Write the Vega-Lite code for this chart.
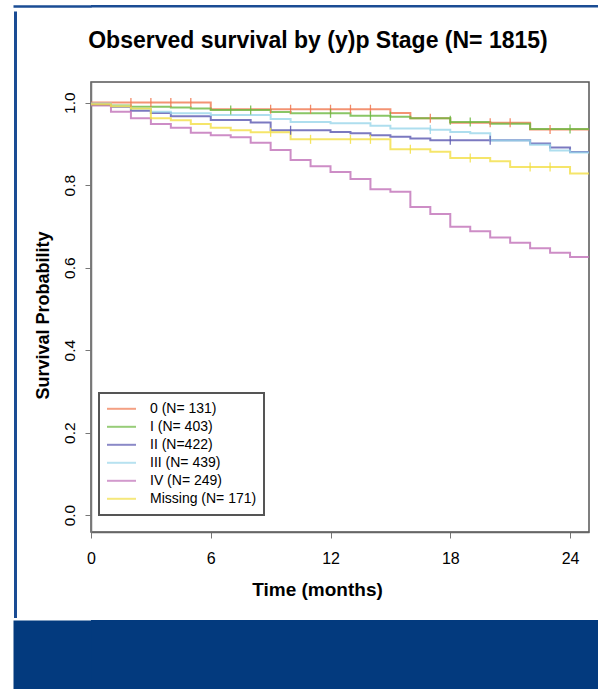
{
  "$schema": "https://vega.github.io/schema/vega-lite/v6.json",
  "autosize": {"type": "pad"},
  "padding": {"left": -22, "top": 4, "right": 0, "bottom": 0},
  "background": "white",
  "spacing": 0,
  "config": {
    "font": "Liberation Sans",
    "view": {"stroke": null},
    "axis": {"labelFont": "Liberation Sans", "titleFont": "Liberation Sans", "grid": false}
  },
  "datasets": {
    "km": [
      {"group": "0 (N= 131)", "month": 0, "survival": 1.0},
      {"group": "0 (N= 131)", "month": 6, "survival": 0.984},
      {"group": "0 (N= 131)", "month": 15, "survival": 0.975},
      {"group": "0 (N= 131)", "month": 16, "survival": 0.962},
      {"group": "0 (N= 131)", "month": 18, "survival": 0.951},
      {"group": "0 (N= 131)", "month": 22, "survival": 0.935},
      {"group": "0 (N= 131)", "month": 24.95, "survival": 0.935},
      {"group": "I (N= 403)", "month": 0, "survival": 0.994},
      {"group": "I (N= 403)", "month": 1, "survival": 0.993},
      {"group": "I (N= 403)", "month": 2, "survival": 0.990},
      {"group": "I (N= 403)", "month": 4, "survival": 0.988},
      {"group": "I (N= 403)", "month": 5, "survival": 0.986},
      {"group": "I (N= 403)", "month": 6, "survival": 0.982},
      {"group": "I (N= 403)", "month": 9, "survival": 0.977},
      {"group": "I (N= 403)", "month": 10, "survival": 0.974},
      {"group": "I (N= 403)", "month": 13, "survival": 0.968},
      {"group": "I (N= 403)", "month": 15, "survival": 0.966},
      {"group": "I (N= 403)", "month": 16, "survival": 0.962},
      {"group": "I (N= 403)", "month": 18, "survival": 0.953},
      {"group": "I (N= 403)", "month": 20, "survival": 0.949},
      {"group": "I (N= 403)", "month": 22, "survival": 0.936},
      {"group": "I (N= 403)", "month": 24.95, "survival": 0.936},
      {"group": "II (N=422)", "month": 0, "survival": 0.996},
      {"group": "II (N=422)", "month": 1, "survival": 0.990},
      {"group": "II (N=422)", "month": 2, "survival": 0.980},
      {"group": "II (N=422)", "month": 3, "survival": 0.975},
      {"group": "II (N=422)", "month": 4, "survival": 0.967},
      {"group": "II (N=422)", "month": 6, "survival": 0.958},
      {"group": "II (N=422)", "month": 8, "survival": 0.952},
      {"group": "II (N=422)", "month": 9, "survival": 0.933},
      {"group": "II (N=422)", "month": 12, "survival": 0.929},
      {"group": "II (N=422)", "month": 13, "survival": 0.926},
      {"group": "II (N=422)", "month": 14, "survival": 0.921},
      {"group": "II (N=422)", "month": 15, "survival": 0.917},
      {"group": "II (N=422)", "month": 16, "survival": 0.913},
      {"group": "II (N=422)", "month": 17, "survival": 0.909},
      {"group": "II (N=422)", "month": 22, "survival": 0.901},
      {"group": "II (N=422)", "month": 23, "survival": 0.891},
      {"group": "II (N=422)", "month": 24, "survival": 0.880},
      {"group": "II (N=422)", "month": 24.95, "survival": 0.880},
      {"group": "III (N= 439)", "month": 0, "survival": 0.998},
      {"group": "III (N= 439)", "month": 1, "survival": 0.992},
      {"group": "III (N= 439)", "month": 2, "survival": 0.986},
      {"group": "III (N= 439)", "month": 3, "survival": 0.978},
      {"group": "III (N= 439)", "month": 4, "survival": 0.974},
      {"group": "III (N= 439)", "month": 6, "survival": 0.970},
      {"group": "III (N= 439)", "month": 9, "survival": 0.960},
      {"group": "III (N= 439)", "month": 10, "survival": 0.953},
      {"group": "III (N= 439)", "month": 12, "survival": 0.950},
      {"group": "III (N= 439)", "month": 14, "survival": 0.944},
      {"group": "III (N= 439)", "month": 15, "survival": 0.937},
      {"group": "III (N= 439)", "month": 17, "survival": 0.934},
      {"group": "III (N= 439)", "month": 18, "survival": 0.929},
      {"group": "III (N= 439)", "month": 19, "survival": 0.926},
      {"group": "III (N= 439)", "month": 20, "survival": 0.908},
      {"group": "III (N= 439)", "month": 22, "survival": 0.898},
      {"group": "III (N= 439)", "month": 23, "survival": 0.884},
      {"group": "III (N= 439)", "month": 24, "survival": 0.879},
      {"group": "III (N= 439)", "month": 24.95, "survival": 0.879},
      {"group": "IV (N= 249)", "month": 0, "survival": 0.993},
      {"group": "IV (N= 249)", "month": 1, "survival": 0.978},
      {"group": "IV (N= 249)", "month": 2, "survival": 0.962},
      {"group": "IV (N= 249)", "month": 3, "survival": 0.948},
      {"group": "IV (N= 249)", "month": 4, "survival": 0.939},
      {"group": "IV (N= 249)", "month": 5, "survival": 0.927},
      {"group": "IV (N= 249)", "month": 6, "survival": 0.921},
      {"group": "IV (N= 249)", "month": 7, "survival": 0.916},
      {"group": "IV (N= 249)", "month": 8, "survival": 0.903},
      {"group": "IV (N= 249)", "month": 9, "survival": 0.885},
      {"group": "IV (N= 249)", "month": 10, "survival": 0.861},
      {"group": "IV (N= 249)", "month": 11, "survival": 0.846},
      {"group": "IV (N= 249)", "month": 12, "survival": 0.832},
      {"group": "IV (N= 249)", "month": 13, "survival": 0.815},
      {"group": "IV (N= 249)", "month": 14, "survival": 0.790},
      {"group": "IV (N= 249)", "month": 15, "survival": 0.784},
      {"group": "IV (N= 249)", "month": 16, "survival": 0.747},
      {"group": "IV (N= 249)", "month": 17, "survival": 0.730},
      {"group": "IV (N= 249)", "month": 18, "survival": 0.699},
      {"group": "IV (N= 249)", "month": 19, "survival": 0.688},
      {"group": "IV (N= 249)", "month": 20, "survival": 0.673},
      {"group": "IV (N= 249)", "month": 21, "survival": 0.660},
      {"group": "IV (N= 249)", "month": 22, "survival": 0.647},
      {"group": "IV (N= 249)", "month": 23, "survival": 0.636},
      {"group": "IV (N= 249)", "month": 24, "survival": 0.626},
      {"group": "IV (N= 249)", "month": 24.95, "survival": 0.626},
      {"group": "Missing (N= 171)", "month": 0, "survival": 0.996},
      {"group": "Missing (N= 171)", "month": 1, "survival": 0.991},
      {"group": "Missing (N= 171)", "month": 2, "survival": 0.986},
      {"group": "Missing (N= 171)", "month": 3, "survival": 0.962},
      {"group": "Missing (N= 171)", "month": 4, "survival": 0.957},
      {"group": "Missing (N= 171)", "month": 5, "survival": 0.948},
      {"group": "Missing (N= 171)", "month": 6, "survival": 0.939},
      {"group": "Missing (N= 171)", "month": 7, "survival": 0.933},
      {"group": "Missing (N= 171)", "month": 8, "survival": 0.928},
      {"group": "Missing (N= 171)", "month": 10, "survival": 0.911},
      {"group": "Missing (N= 171)", "month": 15, "survival": 0.887},
      {"group": "Missing (N= 171)", "month": 17, "survival": 0.881},
      {"group": "Missing (N= 171)", "month": 18, "survival": 0.866},
      {"group": "Missing (N= 171)", "month": 20, "survival": 0.858},
      {"group": "Missing (N= 171)", "month": 21, "survival": 0.844},
      {"group": "Missing (N= 171)", "month": 24, "survival": 0.828},
      {"group": "Missing (N= 171)", "month": 24.95, "survival": 0.828}
    ],
    "censored": [
      {"group": "0 (N= 131)", "month": 2, "survival": 1.0},
      {"group": "0 (N= 131)", "month": 3, "survival": 1.0},
      {"group": "0 (N= 131)", "month": 4, "survival": 1.0},
      {"group": "0 (N= 131)", "month": 5, "survival": 1.0},
      {"group": "0 (N= 131)", "month": 9, "survival": 0.984},
      {"group": "0 (N= 131)", "month": 10, "survival": 0.984},
      {"group": "0 (N= 131)", "month": 11, "survival": 0.984},
      {"group": "0 (N= 131)", "month": 12, "survival": 0.984},
      {"group": "0 (N= 131)", "month": 13, "survival": 0.984},
      {"group": "0 (N= 131)", "month": 14, "survival": 0.984},
      {"group": "0 (N= 131)", "month": 17, "survival": 0.962},
      {"group": "0 (N= 131)", "month": 20, "survival": 0.951},
      {"group": "0 (N= 131)", "month": 21, "survival": 0.951},
      {"group": "0 (N= 131)", "month": 23, "survival": 0.935},
      {"group": "I (N= 403)", "month": 7, "survival": 0.982},
      {"group": "I (N= 403)", "month": 8, "survival": 0.982},
      {"group": "I (N= 403)", "month": 12, "survival": 0.974},
      {"group": "I (N= 403)", "month": 14, "survival": 0.968},
      {"group": "I (N= 403)", "month": 15, "survival": 0.967},
      {"group": "I (N= 403)", "month": 18, "survival": 0.957},
      {"group": "I (N= 403)", "month": 19, "survival": 0.953},
      {"group": "I (N= 403)", "month": 24, "survival": 0.936},
      {"group": "II (N=422)", "month": 10, "survival": 0.933},
      {"group": "II (N=422)", "month": 18, "survival": 0.909},
      {"group": "II (N=422)", "month": 20, "survival": 0.909},
      {"group": "III (N= 439)", "month": 17, "survival": 0.935},
      {"group": "Missing (N= 171)", "month": 9, "survival": 0.928},
      {"group": "Missing (N= 171)", "month": 11, "survival": 0.911},
      {"group": "Missing (N= 171)", "month": 13, "survival": 0.911},
      {"group": "Missing (N= 171)", "month": 14, "survival": 0.911},
      {"group": "Missing (N= 171)", "month": 16, "survival": 0.887},
      {"group": "Missing (N= 171)", "month": 19, "survival": 0.866},
      {"group": "Missing (N= 171)", "month": 22, "survival": 0.844},
      {"group": "Missing (N= 171)", "month": 23, "survival": 0.844}
    ]
  },
  "vconcat": [
    {
      "width": 507,
      "height": 2.5,
      "view": {"fill": "#1a4c94", "stroke": null},
      "data": {"values": []},
      "mark": {"type": "rect"},
      "encoding": {
        "y": {
          "field": "v", "type": "quantitative",
          "scale": {"domain": [0, 1], "nice": false, "zero": false},
          "axis": {"orient": "left", "values": [0.5], "tickSize": 78, "tickWidth": 2.5, "tickColor": "#1a4c94", "tickCap": "butt", "domain": false, "labels": false, "title": null, "grid": false}
        }
      }
    },
    {
      "width": 498,
      "height": 450,
      "view": {"stroke": "#555555", "strokeWidth": 1.5},
      "title": {
        "text": "Observed survival by (y)p Stage (N= 1815)",
        "font": "Liberation Sans",
        "fontSize": 23,
        "fontWeight": "bold",
        "color": "#000000",
        "anchor": "middle",
        "baseline": "alphabetic",
        "offset": -61,
        "dx": -22
      },
      "layer": [
        {
          "data": {"name": "km"},
          "mark": {"type": "line", "interpolate": "step-after", "strokeWidth": 2, "opacity": 0.8},
          "encoding": {
            "x": {
              "field": "month", "type": "quantitative",
              "scale": {"domain": [0, 24.95], "nice": false, "zero": false},
              "axis": {
                "title": "Time (months)", "values": [0, 6, 12, 18, 24],
                "tickSize": 6, "tickColor": "#777777", "domainColor": "#666666", "domainWidth": 1.5,
                "labelFontSize": 16, "labelPadding": 12, "labelColor": "#000000", "labelFlush": false,
                "titleFontSize": 19, "titleFontWeight": "bold", "titleColor": "#000000",
                "titleX": 226, "titleY": 63, "titleBaseline": "alphabetic"
              }
            },
            "y": {
              "field": "survival", "type": "quantitative",
              "scale": {"domain": [-0.041, 1.05], "nice": false, "zero": false},
              "axis": {
                "title": "Survival Probability", "values": [0, 0.2, 0.4, 0.6, 0.8, 1.0], "format": ".1f",
                "tickSize": 6, "tickColor": "#777777", "domainColor": "#777777", "domainWidth": 1.5,
                "labelFontSize": 15.5, "labelPadding": 11, "labelColor": "#000000", "labelAngle": -90,
                "labelAlign": "center", "labelBaseline": "alphabetic", "labelFlush": false,
                "titleFontSize": 18, "titleFontWeight": "bold", "titleColor": "#000000",
                "titleX": -42.5, "titleY": 233, "titleBaseline": "alphabetic", "titleAlign": "center", "titleAngle": -90
              }
            },
            "color": {
              "field": "group", "type": "nominal",
              "scale": {
                "domain": ["0 (N= 131)", "I (N= 403)", "II (N=422)", "III (N= 439)", "IV (N= 249)", "Missing (N= 171)"],
                "range": ["#f07850", "#6cb840", "#5a58b0", "#9ad6ea", "#c070b8", "#f2df45"]
              },
              "legend": {
                "title": null, "orient": "none", "legendX": 8, "legendY": 388,
                "symbolType": "stroke", "symbolSize": 841, "symbolStrokeWidth": 2, "symbolOpacity": 0.7,
                "labelFontSize": 14, "labelFont": "Liberation Sans", "labelColor": "#000000", "labelOffset": 13,
                "padding": 7, "clipHeight": 17.6, "rowPadding": 0, "strokeColor": "#555555",
                "encode": {"legend": {"update": {"strokeWidth": {"value": 2}}}}
              }
            }
          }
        },
        {
          "data": {"name": "censored"},
          "mark": {"type": "tick", "orient": "vertical", "size": 9, "thickness": 1.3, "opacity": 0.85},
          "encoding": {
            "x": {
              "field": "month", "type": "quantitative",
              "axis": {
                "orient": "bottom", "offset": 85.5, "values": [0], "tickOffset": -76.5, "tickSize": -606.5,
                "tickWidth": 3, "tickColor": "#1a4c94", "tickCap": "butt", "domain": false, "labels": false, "title": null
              }
            },
            "y": {"field": "survival", "type": "quantitative", "axis": null},
            "color": {"field": "group", "type": "nominal"}
          }
        }
      ],
      "resolve": {"axis": {"x": "independent", "y": "independent"}}
    },
    {
      "width": 507,
      "height": 70,
      "view": {"fill": "#033a7e", "stroke": null},
      "data": {"values": []},
      "mark": {"type": "rect"},
      "encoding": {
        "y": {
          "field": "v", "type": "quantitative",
          "scale": {"domain": [0, 1], "nice": false, "zero": false},
          "axis": {"orient": "left", "values": [0.5], "tickSize": 78, "tickWidth": 70, "tickColor": "#033a7e", "tickCap": "butt", "domain": false, "labels": false, "title": null, "grid": false}
        }
      }
    }
  ]
}
